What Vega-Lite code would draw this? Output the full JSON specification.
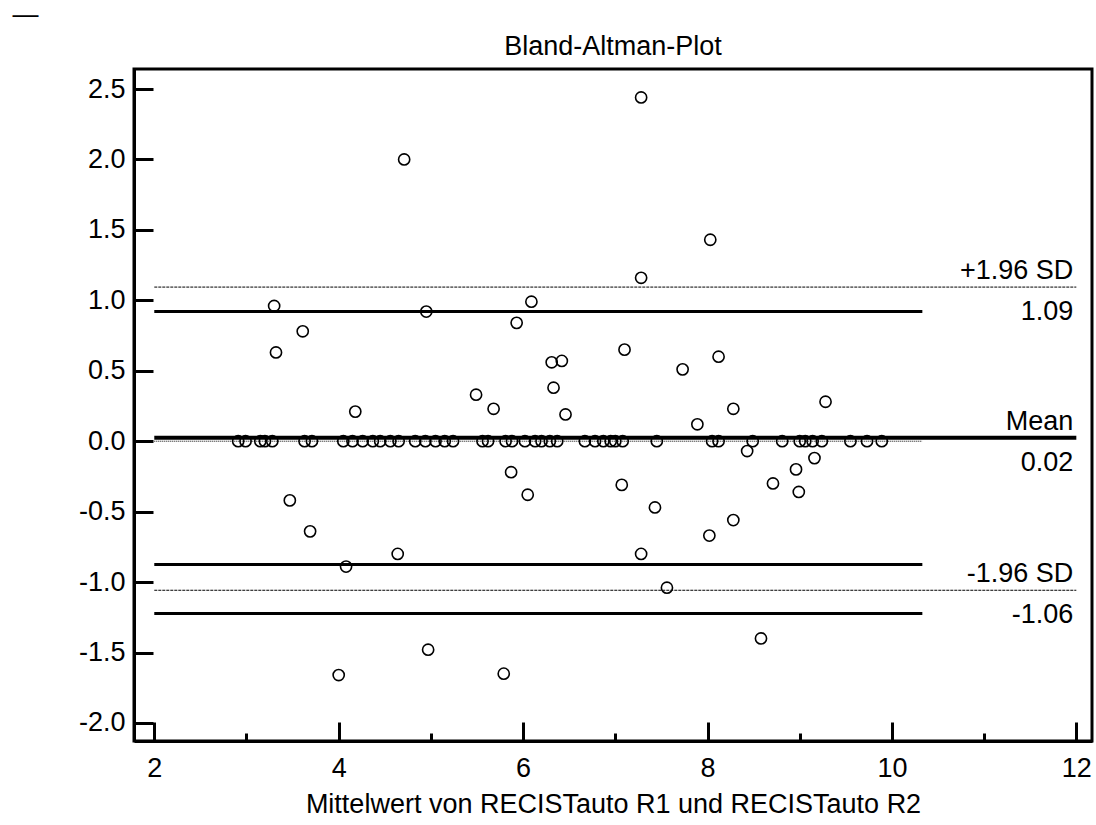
{
  "$schema": "https://vega.github.io/schema/vega-lite/v6.json",
  "width": 958,
  "height": 672,
  "autosize": {"type": "none"},
  "padding": {"left": 134, "top": 69, "right": 4, "bottom": 84},
  "background": "white",
  "title": {"text": "Bland-Altman-Plot", "fontSize": 27, "font": "Liberation Sans", "fontWeight": "normal", "color": "black", "anchor": "middle", "frame": "group", "offset": 16, "baseline": "alphabetic", "dy": 97},
  "config": {"view": {"stroke": "black", "strokeWidth": 3}, "font": "Liberation Sans"},
  "datasets": {
    "points": [
      {"mean": 2.91, "diff": 0}, {"mean": 2.99, "diff": 0}, {"mean": 3.15, "diff": 0}, {"mean": 3.20, "diff": 0}, {"mean": 3.28, "diff": 0},
      {"mean": 3.63, "diff": 0}, {"mean": 3.71, "diff": 0}, {"mean": 4.05, "diff": 0}, {"mean": 4.15, "diff": 0}, {"mean": 4.26, "diff": 0},
      {"mean": 4.37, "diff": 0}, {"mean": 4.45, "diff": 0}, {"mean": 4.56, "diff": 0}, {"mean": 4.65, "diff": 0}, {"mean": 4.83, "diff": 0},
      {"mean": 4.94, "diff": 0}, {"mean": 5.05, "diff": 0}, {"mean": 5.15, "diff": 0}, {"mean": 5.24, "diff": 0}, {"mean": 5.56, "diff": 0},
      {"mean": 5.62, "diff": 0}, {"mean": 5.81, "diff": 0}, {"mean": 5.88, "diff": 0}, {"mean": 6.02, "diff": 0}, {"mean": 6.13, "diff": 0},
      {"mean": 6.20, "diff": 0}, {"mean": 6.29, "diff": 0}, {"mean": 6.37, "diff": 0}, {"mean": 6.67, "diff": 0}, {"mean": 6.78, "diff": 0},
      {"mean": 6.87, "diff": 0}, {"mean": 6.95, "diff": 0}, {"mean": 7.00, "diff": 0}, {"mean": 7.08, "diff": 0}, {"mean": 7.45, "diff": 0},
      {"mean": 8.05, "diff": 0}, {"mean": 8.12, "diff": 0}, {"mean": 8.49, "diff": 0}, {"mean": 8.81, "diff": 0}, {"mean": 9.00, "diff": 0},
      {"mean": 9.06, "diff": 0}, {"mean": 9.14, "diff": 0}, {"mean": 9.24, "diff": 0}, {"mean": 9.55, "diff": 0}, {"mean": 9.73, "diff": 0},
      {"mean": 9.89, "diff": 0},
      {"mean": 4.71, "diff": 2.00}, {"mean": 3.30, "diff": 0.96}, {"mean": 4.95, "diff": 0.92}, {"mean": 3.61, "diff": 0.78},
      {"mean": 3.32, "diff": 0.63}, {"mean": 4.18, "diff": 0.21}, {"mean": 3.47, "diff": -0.42}, {"mean": 3.69, "diff": -0.64},
      {"mean": 4.08, "diff": -0.89}, {"mean": 4.64, "diff": -0.80}, {"mean": 4.00, "diff": -1.66}, {"mean": 4.97, "diff": -1.48},
      {"mean": 5.79, "diff": -1.65}, {"mean": 7.28, "diff": -0.80}, {"mean": 7.56, "diff": -1.04}, {"mean": 6.09, "diff": 0.99},
      {"mean": 5.93, "diff": 0.84}, {"mean": 7.10, "diff": 0.65}, {"mean": 6.31, "diff": 0.56}, {"mean": 6.42, "diff": 0.57},
      {"mean": 7.73, "diff": 0.51}, {"mean": 8.12, "diff": 0.60}, {"mean": 6.33, "diff": 0.38}, {"mean": 5.49, "diff": 0.33},
      {"mean": 5.68, "diff": 0.23}, {"mean": 6.46, "diff": 0.19}, {"mean": 8.28, "diff": 0.23}, {"mean": 7.89, "diff": 0.12},
      {"mean": 8.43, "diff": -0.07}, {"mean": 5.87, "diff": -0.22}, {"mean": 6.05, "diff": -0.38}, {"mean": 7.07, "diff": -0.31},
      {"mean": 7.43, "diff": -0.47}, {"mean": 8.28, "diff": -0.56}, {"mean": 8.02, "diff": -0.67}, {"mean": 9.28, "diff": 0.28},
      {"mean": 9.16, "diff": -0.12}, {"mean": 8.96, "diff": -0.20}, {"mean": 8.71, "diff": -0.30}, {"mean": 8.99, "diff": -0.36},
      {"mean": 7.28, "diff": 2.44}, {"mean": 8.03, "diff": 1.43}, {"mean": 7.28, "diff": 1.16}, {"mean": 8.58, "diff": -1.40}
    ],
    "limits": [
      {"stat": "+1.96 SD", "value": 1.094, "text": "1.09"},
      {"stat": "Mean", "value": 0.025, "text": "0.02"},
      {"stat": "-1.96 SD", "value": -1.058, "text": "-1.06"}
    ],
    "ci": [
      {"value": 0.921}, {"value": -0.876}, {"value": -1.223}
    ],
    "equality": [{"value": 0}]
  },
  "layer": [
    {
      "data": {"name": "equality"},
      "mark": {"type": "rule", "color": "black", "strokeWidth": 1, "strokeDash": [1, 1]},
      "encoding": {
        "x": {"datum": 2, "type": "quantitative"},
        "x2": {"datum": 10.33},
        "y": {"field": "value", "type": "quantitative"}
      }
    },
    {
      "data": {"name": "limits"},
      "transform": [{"filter": "datum.stat !== 'Mean'"}],
      "mark": {"type": "rule", "color": "black", "strokeWidth": 1, "strokeDash": [3, 1]},
      "encoding": {
        "x": {"datum": 2, "type": "quantitative"},
        "x2": {"datum": 12},
        "y": {"field": "value", "type": "quantitative"}
      }
    },
    {
      "data": {"name": "limits"},
      "transform": [{"filter": "datum.stat === 'Mean'"}],
      "mark": {"type": "rule", "color": "black", "strokeWidth": 4},
      "encoding": {
        "x": {"datum": 2, "type": "quantitative"},
        "x2": {"datum": 12},
        "y": {"field": "value", "type": "quantitative"}
      }
    },
    {
      "data": {"name": "ci"},
      "mark": {"type": "rule", "color": "black", "strokeWidth": 3},
      "encoding": {
        "x": {"datum": 2, "type": "quantitative"},
        "x2": {"datum": 10.33},
        "y": {"field": "value", "type": "quantitative"}
      }
    },
    {
      "data": {"name": "points"},
      "mark": {"type": "point", "shape": "circle", "filled": false, "stroke": "black", "strokeWidth": 1.6, "size": 125, "opacity": 1},
      "encoding": {
        "x": {
          "field": "mean", "type": "quantitative",
          "scale": {"domain": [1.78, 12.17], "nice": false, "zero": false},
          "axis": {
            "values": [2, 3, 4, 5, 6, 7, 8, 9, 10, 11, 12],
            "labelExpr": "datum.value % 2 === 0 ? format(datum.value, 'd') : ''",
            "tickSize": {"condition": {"test": "datum.value % 2 === 0", "value": -19}, "value": -8},
            "tickWidth": 3, "tickColor": "black", "domainColor": "black", "domainWidth": 3,
            "labelFontSize": 27, "labelFont": "Liberation Sans", "labelColor": "black", "labelPadding": 33,
            "labelFlush": false, "labelOverlap": false, "grid": false,
            "title": "Mittelwert von RECISTauto R1 und RECISTauto R2",
            "titleFontSize": 27, "titleFont": "Liberation Sans", "titleFontWeight": "normal", "titleColor": "black",
            "titleBaseline": "alphabetic", "titleY": 71
          }
        },
        "y": {
          "field": "diff", "type": "quantitative",
          "scale": {"domain": [-2.128, 2.642], "nice": false, "zero": false},
          "axis": {
            "values": [-2, -1.5, -1, -0.5, 0, 0.5, 1, 1.5, 2, 2.5],
            "labelExpr": "(datum.value < 0 ? '-' : '') + format(abs(datum.value), '.1f')",
            "tickSize": -19, "tickWidth": 3, "tickColor": "black", "domainColor": "black", "domainWidth": 3,
            "labelFontSize": 27, "labelFont": "Liberation Sans", "labelColor": "black", "labelPadding": 28,
            "labelFlush": false, "labelOverlap": false, "grid": false,
            "title": "—", "titleAngle": 0, "titleAlign": "left", "titleBaseline": "alphabetic",
            "titleX": -122, "titleY": -47, "titleFontSize": 26, "titleFont": "Liberation Sans",
            "titleFontWeight": "normal", "titleColor": "black"
          }
        }
      }
    },
    {
      "data": {"name": "limits"},
      "mark": {"type": "text", "align": "right", "baseline": "alphabetic", "dx": -3, "dy": -8, "fontSize": 27, "font": "Liberation Sans", "color": "black"},
      "encoding": {
        "x": {"datum": 12, "type": "quantitative"},
        "y": {"field": "value", "type": "quantitative"},
        "text": {"field": "stat"}
      }
    },
    {
      "data": {"name": "limits"},
      "mark": {"type": "text", "align": "right", "baseline": "alphabetic", "dx": -3, "dy": 33, "fontSize": 27, "font": "Liberation Sans", "color": "black"},
      "encoding": {
        "x": {"datum": 12, "type": "quantitative"},
        "y": {"field": "value", "type": "quantitative"},
        "text": {"field": "text"}
      }
    }
  ]
}
